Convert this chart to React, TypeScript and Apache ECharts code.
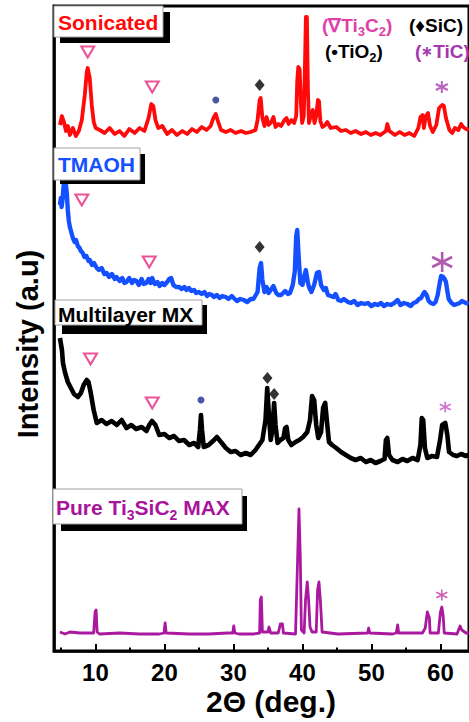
import React, { useEffect, useRef } from 'react';
import * as echarts from 'echarts';

const FONT = '"Liberation Sans", Arial, Helvetica, sans-serif';

// 2θ axis
const xMin = 4;
const xMax = 64.14;
const majorTicks = [10, 20, 30, 40, 50, 60];
const minorTicks = [5, 15, 25, 35, 45, 55];
const yMax = 645;

// Sonicated (offset trace)
const sonicated = [
  [4.86, 526], [5.15, 535], [5.44, 529], [5.73, 520], [6.01, 525], [6.3, 516], [6.73, 523], [7.17, 515], [7.6, 520],
  [8.03, 531], [8.46, 556], [8.75, 579], [8.89, 583], [9.18, 573], [9.47, 546], [9.76, 529], [10.04, 523], [10.62, 521],
  [11.34, 518], [12.06, 523], [12.8, 517], [13.5, 520], [14.2, 515], [14.9, 522], [15.7, 518], [16.4, 523], [17.1, 520],
  [17.7, 533], [18.1, 547], [18.4, 545], [18.7, 531], [19.1, 523], [19.7, 525], [20.4, 517], [21.1, 521], [21.8, 516],
  [22.6, 520], [23.3, 517], [24.0, 522], [24.7, 519], [25.4, 524], [26.1, 521], [26.7, 525], [27.1, 533], [27.45, 537],
  [27.7, 531], [28.2, 521], [28.9, 519], [29.6, 521], [30.3, 518], [31.1, 520], [31.8, 518], [32.5, 519], [33.2, 521],
  [33.5, 531], [33.8, 551], [33.95, 553], [34.2, 533], [34.5, 525], [34.8, 534], [35.1, 526], [35.5, 529], [35.8, 534],
  [36.1, 524], [36.5, 527], [36.9, 525], [37.4, 531], [37.7, 533], [38.0, 527], [38.4, 531], [38.8, 528], [39.1, 535],
  [39.25, 570], [39.4, 584], [39.6, 582], [39.8, 545], [39.95, 528], [40.2, 535], [40.38, 590], [40.5, 634], [40.65, 634],
  [40.8, 560], [40.95, 528], [41.2, 535], [41.5, 541], [41.75, 528], [42.0, 535], [42.25, 551], [42.4, 550], [42.6, 530],
  [42.9, 524], [43.3, 526], [43.6, 529], [44.1, 523], [44.9, 524], [45.6, 520], [46.3, 521], [47.0, 518], [47.7, 520],
  [48.5, 517], [49.2, 519], [49.9, 516], [50.6, 518], [51.3, 516], [52.1, 520], [52.3, 527], [52.6, 520], [53.4, 516],
  [54.1, 519], [54.8, 516], [55.5, 518], [56.2, 515], [56.8, 523], [57.1, 534], [57.4, 536], [57.6, 523], [57.9, 535],
  [58.2, 538], [58.5, 525], [58.9, 519], [59.4, 526], [59.8, 543], [60.25, 546], [60.5, 545], [60.8, 533], [61.3, 521],
  [61.7, 518], [62.1, 523], [62.6, 521], [63.0, 527], [63.3, 524], [63.7, 522], [64.1, 521],
];

// TMAOH
const tmaoh = [
  [4.86, 446], [5.0, 453], [5.1, 444], [5.25, 452], [5.4, 466], [5.55, 470], [5.7, 468], [5.85, 458], [6.0, 441],
  [6.15, 430], [6.3, 424], [6.5, 419], [6.73, 413], [7.0, 409], [7.2, 411], [7.45, 405], [7.7, 403], [7.9, 400],
  [8.17, 398], [8.4, 394], [8.7, 395], [9.0, 390], [9.2, 391], [9.5, 386], [9.8, 388], [10.2, 383], [10.5, 381],
  [10.9, 383], [11.3, 377], [11.63, 378], [12.0, 374], [12.4, 377], [12.8, 372], [13.06, 374], [13.5, 370], [13.9, 373],
  [14.2, 368], [14.5, 369], [14.9, 373], [15.3, 368], [15.6, 371], [15.94, 370], [16.3, 366], [16.7, 372], [17.0, 367],
  [17.38, 368], [17.7, 372], [18.0, 368], [18.24, 373], [18.6, 367], [19.0, 369], [19.3, 365], [19.68, 368], [20.0, 366],
  [20.4, 369], [20.7, 372], [20.98, 373], [21.3, 366], [21.7, 364], [22.13, 364], [22.5, 362], [22.9, 364], [23.2, 361],
  [23.57, 363], [23.9, 360], [24.3, 361], [24.6, 358], [25.0, 359], [25.4, 357], [25.8, 359], [26.2, 355], [26.5, 357],
  [26.88, 356], [27.2, 354], [27.6, 356], [28.0, 353], [28.4, 355], [28.89, 354], [29.3, 352], [29.76, 355], [30.04, 353],
  [30.5, 350], [31.0, 352], [31.5, 351], [32.0, 349], [32.5, 352], [32.9, 352], [33.5, 359], [33.8, 383], [34.0, 388],
  [34.2, 371], [34.5, 359], [34.8, 364], [35.1, 358], [35.4, 361], [35.8, 365], [36.2, 358], [36.5, 356], [36.9, 356],
  [37.2, 358], [37.5, 360], [37.9, 357], [38.2, 358], [38.6, 366], [38.9, 380], [39.1, 415], [39.25, 421], [39.45, 395],
  [39.7, 368], [40.0, 366], [40.3, 376], [40.5, 381], [40.8, 368], [41.0, 363], [41.3, 359], [41.7, 366], [42.1, 378],
  [42.4, 379], [42.7, 366], [43.1, 361], [43.4, 363], [43.7, 356], [44.1, 355], [44.5, 354], [44.8, 357], [45.2, 351],
  [45.6, 350], [46.0, 352], [46.6, 349], [47.0, 348], [47.5, 350], [48.0, 346], [48.5, 348], [49.0, 347], [49.5, 348],
  [50.0, 345], [50.5, 347], [50.9, 346], [51.4, 348], [51.8, 345], [52.3, 347], [52.8, 346], [53.3, 348], [53.8, 351],
  [54.2, 346], [54.7, 348], [55.2, 347], [55.7, 345], [56.1, 348], [56.5, 349], [56.9, 352], [57.2, 353], [57.5, 357],
  [57.7, 359], [58.0, 356], [58.3, 350], [58.6, 348], [59.0, 347], [59.3, 349], [59.6, 356], [59.9, 368], [60.1, 375],
  [60.4, 374], [60.6, 372], [60.8, 369], [61.0, 360], [61.2, 352], [61.6, 348], [62.0, 346], [62.4, 347], [62.8, 348],
  [63.1, 350], [63.4, 349], [63.7, 348], [64.1, 347],
];

// Multilayer MX
const multilayer = [
  [4.86, 313], [5.15, 301], [5.3, 288], [5.58, 279], [6.0, 269], [6.45, 263], [6.9, 257], [7.45, 254], [7.9, 258],
  [8.3, 266], [8.75, 271], [9.0, 269], [9.3, 259], [9.75, 241], [10.2, 228], [10.9, 231], [11.6, 227], [12.35, 230],
  [13.1, 226], [13.8, 231], [14.5, 223], [15.2, 226], [15.9, 222], [16.7, 224], [17.4, 220], [17.8, 226], [18.2, 230],
  [18.7, 226], [19.25, 216], [20.0, 217], [20.7, 213], [21.4, 215], [22.1, 210], [22.85, 211], [23.6, 206], [24.3, 208],
  [24.9, 204], [25.15, 221], [25.3, 236], [25.45, 221], [25.7, 204], [26.4, 206], [27.2, 211], [27.6, 214], [28.2, 209],
  [28.9, 203], [29.6, 199], [30.3, 200], [31.05, 196], [31.8, 198], [32.5, 196], [33.2, 201], [33.8, 207], [34.2, 211],
  [34.65, 231], [34.9, 263], [35.1, 241], [35.4, 211], [35.65, 221], [35.9, 248], [36.1, 226], [36.4, 208], [36.8, 211],
  [37.25, 213], [37.5, 223], [37.7, 224], [37.95, 211], [38.4, 206], [39.0, 209], [39.55, 211], [40.1, 214], [40.7, 219],
  [41.1, 231], [41.4, 255], [41.7, 251], [42.0, 226], [42.3, 213], [42.7, 219], [43.0, 243], [43.3, 248], [43.6, 226],
  [43.85, 209], [44.3, 206], [44.9, 203], [45.6, 199], [46.3, 196], [47.0, 193], [47.7, 191], [48.45, 193], [49.2, 189],
  [49.9, 191], [50.6, 188], [51.3, 190], [51.9, 192], [52.1, 211], [52.3, 213], [52.55, 196], [53.05, 191], [53.8, 189],
  [54.5, 192], [55.2, 190], [55.95, 193], [56.7, 191], [57.1, 206], [57.3, 233], [57.5, 231], [57.75, 203], [58.1, 193],
  [58.8, 195], [59.5, 194], [59.95, 211], [60.25, 226], [60.7, 228], [61.0, 216], [61.25, 199], [61.85, 196], [62.4, 195],
  [63.0, 197], [63.7, 195], [64.1, 196],
];

// Pure Ti3SiC2 MAX
const pureMax = [
  [4.86, 19], [5.6, 17], [6.3, 19], [7.75, 18], [9.2, 18], [9.75, 18], [9.95, 39], [10.1, 41], [10.25, 19], [10.6, 17],
  [13.5, 18], [16.4, 17], [19.25, 17], [19.95, 18], [20.1, 28], [20.25, 18], [23.6, 17], [26.4, 17], [29.2, 18],
  [29.9, 18], [30.05, 25], [30.2, 18], [30.8, 17], [32.9, 17], [33.8, 18], [33.9, 51], [34.05, 54], [34.2, 19],
  [35.0, 19], [35.15, 24], [35.4, 18], [36.5, 18], [36.8, 27], [37.1, 27], [37.25, 18], [39.0, 17], [39.3, 91],
  [39.5, 142], [39.7, 91], [39.85, 21], [40.25, 18], [40.45, 51], [40.7, 69], [40.9, 51], [41.1, 24], [41.4, 19],
  [42.0, 19], [42.2, 61], [42.4, 69], [42.6, 51], [42.85, 19], [45.15, 17], [49.45, 18], [49.6, 23], [49.75, 18],
  [53.05, 17], [53.6, 18], [53.8, 26], [53.95, 18], [57.4, 18], [57.8, 23], [58.1, 39], [58.4, 33], [58.5, 18],
  [59.7, 18], [60.0, 39], [60.2, 44], [60.4, 35], [60.55, 18], [62.4, 17], [62.85, 25], [63.1, 21], [63.7, 18], [64.1, 18],
];

// Phase markers
const ti3c2Marks = [[8.89, 599], [18.24, 564], [8.03, 451], [17.8, 389], [9.3, 292], [18.24, 248]];
const sicMarks = [[33.8, 566], [33.8, 404], [34.93, 273], [35.9, 257]];
const tio2Marks = [[27.45, 551], [25.3, 251]];
const ticMarks = [[60.2, 564], [60.25, 389], [60.7, 244], [60.2, 56]];

const ASTERISK = 'path://M10,0 L10,20 M1.34,5 L18.66,15 M1.34,15 L18.66,5';

const labelGroup = (
  r: number[], s: number[], text: string, tx: number, ty: number, color: string,
) => ({
  type: 'group',
  z: 100,
  children: [
    { type: 'rect', z: 100, shape: { x: s[0], y: s[1], width: s[2], height: s[3] }, style: { fill: '#000' } },
    { type: 'rect', z: 101, shape: { x: r[0], y: r[1], width: r[2], height: r[3] }, style: { fill: '#fff', stroke: '#a0a0a0', lineWidth: 1 } },
    {
      type: 'text', z: 102, x: tx, y: ty,
      style: {
        text, fill: color, fontSize: 21, fontWeight: 'bold', fontFamily: FONT, lineHeight: 30,
        align: 'left', verticalAlign: 'middle',
        rich: { s: { fontSize: 14, fontWeight: 'bold', fontFamily: FONT, fill: color, lineHeight: 14, verticalAlign: 'bottom' } },
      },
    },
  ],
});

const legendText = (text: string, x: number, y: number, color: string) => ({
  type: 'text', z: 100, x, y,
  style: {
    text, fill: color, fontSize: 19, fontWeight: 'bold', fontFamily: FONT, lineHeight: 26,
    align: 'left', verticalAlign: 'middle',
    rich: {
      s: { fontSize: 13, fontWeight: 'bold', fontFamily: FONT, fill: color, lineHeight: 13, verticalAlign: 'bottom' },
      a: { fontSize: 14, fontWeight: 'bold', fontFamily: FONT, fill: color, lineHeight: 26 },
    },
  },
});

export default function App() {
  const ref = useRef<HTMLDivElement>(null);
  useEffect(() => {
    if (!ref.current) return;
    const chart = echarts.init(ref.current, null, { renderer: 'svg' });
    const lineSeries = (data: number[][], color: string, width: number) => ({
      type: 'line', data, showSymbol: false, symbol: 'none', smooth: false,
      lineStyle: { color, width, join: 'round' }, silent: true, z: 2,
    });
    chart.setOption({
      animation: false,
      backgroundColor: '#fff',
      grid: { left: 54, right: -3, top: 6, bottom: 71, show: true, borderColor: '#000', borderWidth: 3, backgroundColor: 'transparent' },
      xAxis: [
        {
          type: 'value', min: xMin, max: xMax, position: 'bottom',
          axisLine: { show: true, onZero: false, lineStyle: { color: '#000', width: 2.5 } },
          axisTick: { show: true, inside: true, length: 7, customValues: majorTicks, lineStyle: { color: '#000', width: 2 } },
          axisLabel: { show: true, customValues: majorTicks, fontSize: 24, fontWeight: 'bold', color: '#000', fontFamily: FONT, margin: 9 },
          splitLine: { show: false },
        },
        {
          type: 'value', min: xMin, max: xMax, position: 'top', offset: -645,
          axisLine: { show: false, onZero: false },
          axisTick: { show: true, inside: false, length: 3.5, customValues: minorTicks, lineStyle: { color: '#000', width: 2 } },
          axisLabel: { show: false },
          splitLine: { show: false },
        },
      ],
      yAxis: {
        type: 'value', min: 0, max: yMax,
        axisLine: { show: true, onZero: false, lineStyle: { color: '#000', width: 2.5 } },
        axisTick: { show: false }, axisLabel: { show: false }, splitLine: { show: false },
      },
      series: [
        lineSeries(pureMax, '#aa18a0', 2.8),
        lineSeries(multilayer, '#000000', 4.6),
        lineSeries(tmaoh, '#1450ff', 4.4),
        lineSeries(sonicated, '#ff0a0a', 3.8),
        {
          type: 'scatter', data: ti3c2Marks, symbol: 'triangle', symbolRotate: 180, symbolSize: [13, 11],
          itemStyle: { color: '#ffffff', borderColor: '#e6287e', borderWidth: 2 }, z: 5,
        },
        {
          type: 'scatter', data: sicMarks, symbol: 'diamond', symbolSize: [10, 12],
          itemStyle: { color: '#000' }, z: 5,
        },
        {
          type: 'scatter', data: tio2Marks, symbol: 'circle', symbolSize: 7,
          itemStyle: { color: '#1b2c8c' }, z: 5,
        },
        {
          type: 'scatter', symbol: ASTERISK, z: 5,
          data: ticMarks.map((p, i) => ({
            value: p,
            symbolSize: [12, 20, 11, 11][i],
            itemStyle: { color: 'none', borderColor: ['#a63cb0', '#9b2f9b', '#c34dc3', '#c0399f'][i], borderWidth: [2, 2.6, 1.6, 1.6][i] },
          })),
        },
      ],
      graphic: {
        elements: [
          labelGroup([54, 6, 109, 31], [60, 12, 110, 31], 'Sonicated', 58, 22, '#ff0a0a'),
          labelGroup([54, 148, 86, 32], [60, 154, 85, 30], 'TMAOH', 58, 164, '#1450ff'),
          labelGroup([55, 300, 147, 25], [62, 305, 145, 29], 'Multilayer MX', 58, 314, '#000000'),
          labelGroup([53, 489, 189, 35], [61, 496, 186, 35], 'Pure Ti{s|3}SiC{s|2} MAX', 56, 507, '#a8149c'),
          legendText('(∇Ti{s|3}C{s|2})', 322, 25, '#e040a8'),
          legendText('(♦SiC)', 409, 25, '#000000'),
          legendText('(•TiO{s|2})', 325, 51, '#000000'),
          legendText('({a|∗}TiC)', 415, 51, '#a535b0'),
          {
            type: 'text', z: 100, x: 28, y: 344, rotation: Math.PI / 2,
            style: { text: 'Intensity (a.u)', fill: '#000', fontSize: 29, fontWeight: 'bold', fontFamily: FONT, align: 'center', verticalAlign: 'middle' },
          },
          {
            type: 'text', z: 100, x: 271, y: 701,
            style: { text: '2Θ (deg.)', fill: '#000', fontSize: 30, fontWeight: 'bold', fontFamily: FONT, align: 'center', verticalAlign: 'middle' },
          },
        ],
      },
    });
    return () => chart.dispose();
  }, []);
  return <div ref={ref} style={{ position: 'fixed', left: 0, top: 0, width: 469, height: 722 }} />;
}
